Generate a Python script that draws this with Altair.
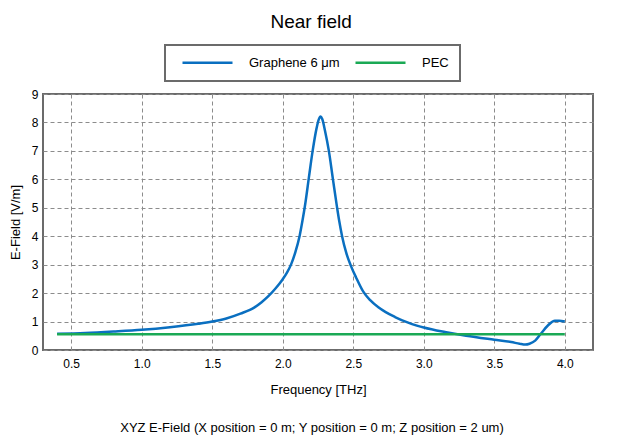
import altair as alt
import pandas as pd

# Graphene 6 µm curve (frequency in THz, E-field in V/m)
g_freq = [0.40, 0.60, 0.80, 1.00, 1.20, 1.40, 1.50, 1.60, 1.70, 1.80, 1.85, 1.90,
          1.95, 2.00, 2.03, 2.06, 2.09, 2.12, 2.14, 2.16, 2.185, 2.212, 2.24, 2.255,
          2.268, 2.28, 2.30, 2.327, 2.356, 2.384, 2.40, 2.42, 2.45, 2.484, 2.52,
          2.571, 2.62, 2.678, 2.73, 2.796, 2.88, 2.957, 3.00, 3.15, 3.30, 3.50,
          3.62, 3.68, 3.72, 3.75, 3.79, 3.83, 3.88, 3.93, 3.96, 4.00]
g_val = [0.57, 0.60, 0.65, 0.71, 0.80, 0.92, 1.00, 1.11, 1.28, 1.50, 1.68, 1.90,
         2.17, 2.49, 2.72, 3.02, 3.45, 4.02, 4.55, 5.15, 6.05, 7.00, 7.80, 8.10,
         8.21, 8.12, 7.70, 7.00, 6.00, 5.05, 4.55, 4.02, 3.42, 2.95, 2.55,
         2.05, 1.75, 1.50, 1.33, 1.16, 0.98, 0.85, 0.79, 0.63, 0.50, 0.36,
         0.28, 0.22, 0.19, 0.22, 0.33, 0.57, 0.86, 1.03, 1.03, 1.00]

# PEC curve
p_freq = [0.40, 1.00, 2.00, 3.00, 4.00]
p_val = [0.555, 0.555, 0.555, 0.555, 0.555]

series_names = ["Graphene 6 \u03bcm", "PEC"]
series_colors = ["#0a6fc0", "#1aa955"]
x_ticks = [0.5, 1.0, 1.5, 2.0, 2.5, 3.0, 3.5, 4.0]
y_ticks = [0, 1, 2, 3, 4, 5, 6, 7, 8, 9]

df = pd.concat([
    pd.DataFrame({"freq": g_freq, "val": g_val, "series": series_names[0]}),
    pd.DataFrame({"freq": p_freq, "val": p_val, "series": series_names[1]}),
])

FONT = "Liberation Sans"

lines = alt.Chart(df).mark_line(strokeWidth=2.5, interpolate="monotone").encode(
    x=alt.X("freq:Q", title="Frequency [THz]",
            scale=alt.Scale(domain=[0.3, 4.2], nice=False, zero=False),
            axis=alt.Axis(values=x_ticks, format=".1f")),
    y=alt.Y("val:Q", title="E-Field [V/m]",
            scale=alt.Scale(domain=[0, 9], nice=False),
            axis=alt.Axis(values=y_ticks, format="d")),
    color=alt.Color("series:N",
                    scale=alt.Scale(domain=series_names, range=series_colors),
                    sort=series_names,
                    legend=alt.Legend(orient="none", legendX=122, legendY=-49,
                                      direction="horizontal", title=None,
                                      symbolType="M0,0L10,0", symbolSize=100,
                                      symbolStrokeWidth=2.5,
                                      labelFontSize=13, labelFont=FONT,
                                      labelColor="black",
                                      labelOffset=60, columnPadding=9,
                                      padding=11, strokeColor="#6b6b6b")),
).properties(
    width=550, height=256,
    title=alt.TitleParams(
        "XYZ E-Field (X position = 0 m; Y position = 0 m; Z position = 2 um)",
        orient="bottom", anchor="middle", dx=-6, offset=26,
        fontSize=13, fontWeight="normal", font=FONT, color="black"),
)

chart = alt.vconcat(lines).properties(
    title=alt.TitleParams("Near field", anchor="middle", dx=10, offset=12,
                          fontSize=19, fontWeight="normal", font=FONT,
                          color="black"),
    padding={"left": 0, "top": 5, "right": 5, "bottom": 5},
).configure_view(
    stroke="#6b6b6b", strokeWidth=2,
).configure_axis(
    grid=True, gridColor="#8c8c8c", gridDash=[4, 3], gridWidth=1,
    domain=False, ticks=False, tickSize=0,
    labelFont=FONT, labelFontSize=12, labelColor="black",
    titleFont=FONT, titleFontSize=13, titleFontWeight="normal", titleColor="black",
).configure_axisX(
    labelPadding=8, titlePadding=14,
).configure_axisY(
    labelPadding=5, titlePadding=9,
).configure_legend(
    strokeWidth=2,
)

chart.save("out.html", embed_options={"renderer": "svg", "actions": False})
